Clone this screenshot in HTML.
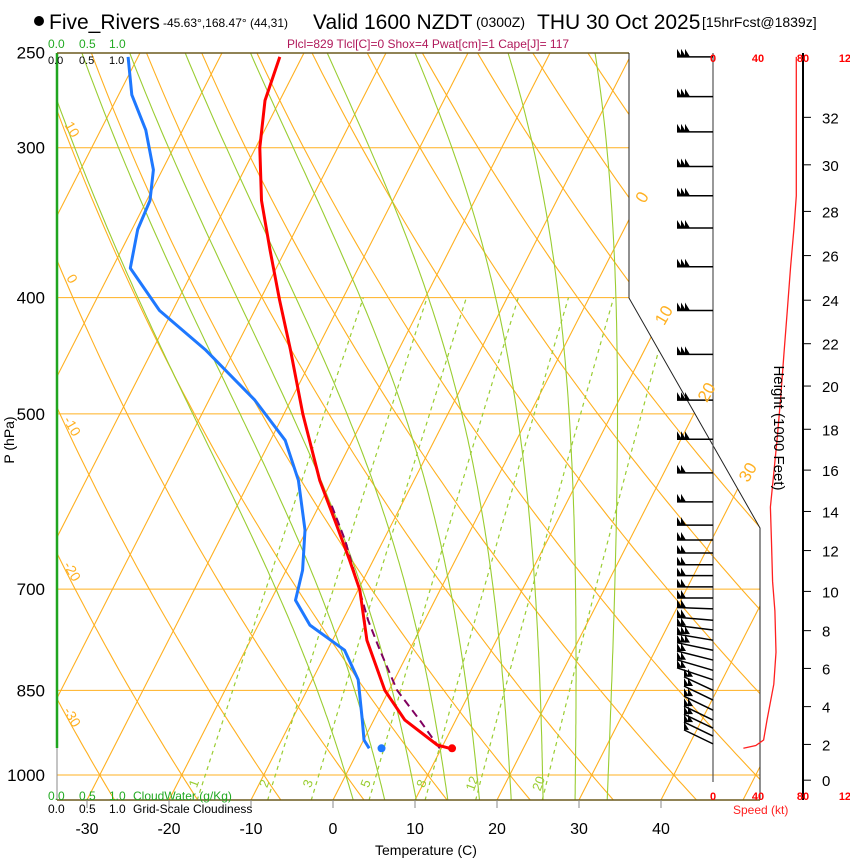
<!DOCTYPE html>
<html><head><meta charset="utf-8">
<style>
html,body{margin:0;padding:0;background:#fff;}
svg{display:block;font-family:"Liberation Sans",Arial,sans-serif;}
</style></head>
<body>
<svg id="chart" width="850" height="860" viewBox="0 0 850 860" xmlns="http://www.w3.org/2000/svg">
<defs>
<clipPath id="plotClip"><polygon points="57,53 629,53 629,298 760,528 760,800 57,800"/></clipPath>
</defs>
<rect width="850" height="860" fill="#fff"/>
<g id="grid" clip-path="url(#plotClip)"></g>
<g id="series"></g>
<g id="frame"></g>
<g id="wind"></g>
<g id="labels">
  <circle cx="39" cy="21" r="5" fill="#000"/>
  <text x="49" y="29" font-size="21">Five_Rivers</text>
  <text x="163" y="27" font-size="12">-45.63°,168.47° (44,31)</text>
  <text x="313" y="29" font-size="21">Valid 1600 NZDT</text>
  <text x="476" y="27" font-size="14">(0300Z)</text>
  <text x="537" y="29" font-size="21">THU 30 Oct 2025</text>
  <text x="702" y="27" font-size="14">[15hrFcst@1839z]</text>
  <text x="287" y="48" font-size="12" fill="#b0185a">Plcl=829 Tlcl[C]=0 Shox=4 Pwat[cm]=1 Cape[J]= 117</text>
  <g font-size="12" fill="#22aa22">
    <text x="48" y="48">0.0</text><text x="79" y="48">0.5</text><text x="109" y="48">1.0</text>
  </g>
  <g font-size="11" fill="#000">
    <text x="48" y="64">0.0</text><text x="79" y="64">0.5</text><text x="109" y="64">1.0</text>
  </g>
  <g font-size="12" fill="#22aa22">
    <text x="48" y="800">0.0</text><text x="79" y="800">0.5</text><text x="109" y="800">1.0</text><text x="133" y="800">CloudWater (g/Kg)</text>
  </g>
  <g font-size="12" fill="#000">
    <text x="48" y="813">0.0</text><text x="79" y="813">0.5</text><text x="109" y="813">1.0</text><text x="133" y="813">Grid-Scale Cloudiness</text>
  </g>
  <text x="375" y="855" font-size="14">Temperature (C)</text>
  <text transform="translate(14,440) rotate(-90)" font-size="14" text-anchor="middle">P (hPa)</text>
  <text transform="translate(774,428) rotate(90)" font-size="15" text-anchor="middle">Height (1000 Feet)</text>
  <text x="733" y="814" font-size="12" fill="#ff2020">Speed (kt)</text>
</g>
<script>
// ---- data ----
const pressureTicks = [250, 300, 400, 500, 700, 850, 1000];
const tempTicks = [-30, -20, -10, 0, 10, 20, 30, 40];
const isobarLines = [300, 400, 500, 700, 850, 1000];
const mixingRatios = [1, 2, 3, 5, 8, 12, 20];
const moistThetaW = [0, 4, 8, 12, 16, 20, 24, 28, 32];
const dryThetaLabels = [10, 0, -10, -20, -30];
const tempP = [252, 274, 300, 332, 365, 402, 442, 500, 568, 613, 662, 701, 772, 850, 900, 944, 950];
const tempT = [-52.7, -51.8, -49.5, -46, -41.9, -37.6, -33.2, -27.7, -21.5, -17.2, -12.9, -9.8, -5.8, -0.5, 3.8, 9.3, 11.0];
const dewP = [252, 271, 290, 313, 332, 351, 378, 410, 442, 487, 526, 568, 625, 675, 715, 750, 787, 833, 900, 935, 950];
const dewT = [-71.2, -68.4, -64.5, -61.1, -59.6, -59.3, -57.8, -51.6, -43.6, -34.4, -28.2, -24.1, -20.2, -18.0, -17.0, -13.7, -7.9, -4.4, -1.4, 0.05, 1.2];
const parcelP = [950, 900, 850, 787, 743, 688, 637, 596];
const parcelT = [9.8, 5.6, 1.0, -3.6, -6.9, -10.8, -14.7, -18.5];
const sfcTemp = 11.3, sfcDew = 2.7, sfcP = 950;
const barbP = [252, 272, 291, 311, 329, 350, 377, 410, 446, 487, 525, 560, 592, 619, 637, 653, 668, 682, 697, 712, 727, 743, 757, 772, 787, 802, 818, 833, 850, 866, 883, 900, 914, 928, 942];
const barbSpd = [74, 74, 74, 74, 74, 70, 67, 63, 60, 57, 55, 53, 52, 52, 52, 52, 53, 53, 53, 54, 54, 54, 54, 55, 55, 54, 54, 50, 48, 47, 46, 45, 44, 42, 30];
const profP = [252, 329, 350, 377, 410, 446, 487, 525, 560, 598, 640, 690, 730, 790, 840, 900, 935, 945, 950];
const profSpd = [74, 74, 72, 69, 66, 63, 60, 57, 54, 51, 52, 53, 55, 56, 54, 48, 45, 38, 27];
const heightTicks = [0, 2, 4, 6, 8, 10, 12, 14, 16, 18, 20, 22, 24, 26, 28, 30, 32];
const heightTickP = [1010, 943, 877, 815, 758, 703, 650, 603, 557, 515, 474, 437, 402, 369, 339, 310, 283];
const speedTicks = [0, 40, 80, 120];

// ---- axis functions ----
const NS = "http://www.w3.org/2000/svg";
function yP(p){ return 775 - 521*Math.log(1000/p); }
function xT(T, y){ return 333 + 8.2*T + 0.51*(800 - y); }
function xSpd(s){ return 713 + 1.125*s; }
function mk(tag, attrs, parent){
  const e = document.createElementNS(NS, tag);
  for (const k in attrs) e.setAttribute(k, attrs[k]);
  parent.appendChild(e); return e;
}
const grid = document.getElementById('grid');
const series = document.getElementById('series');
const frame = document.getElementById('frame');
const wind = document.getElementById('wind');
const labels = document.getElementById('labels');
const ORANGE = "#ffb020", GREEN = "#9acd32";

// isotherms
for (let T = -130; T <= 60; T += 10){
  const l = mk('line', {x1: xT(T,800), y1: 800, x2: xT(T,53), y2: 53, stroke: ORANGE, 'stroke-width': 1.1}, grid);
  
  
}
// dry adiabats
for (let th = 183.15; th <= 473.15; th += 10){
  let d = '';
  for (let p = 1050; p >= 245; p -= 10){
    const T = th*Math.pow(p/1000, 0.286) - 273.15, y = yP(p);
    d += (d ? 'L' : 'M') + xT(T,y).toFixed(1) + ',' + y.toFixed(1);
  }
  const e = mk('path', {d: d, fill: 'none', stroke: ORANGE, 'stroke-width': 1.1}, grid);
  
  
}
// isobars
isobarLines.forEach(p => {
  const e = mk('line', {x1: 57, y1: yP(p), x2: 760, y2: yP(p), stroke: ORANGE, 'stroke-width': 1}, grid);
  
  
});
// moist adiabats
function es(T){ return 6.112*Math.exp(17.67*T/(T+243.5)); }
function rs(T,p){ const e = es(T); return 0.622*e/(p-e); }
function moistGrad(T,p){
  const Tk = T + 273.15, r = rs(T,p), Lv = 2.5e6, Rd = 287, cp = 1004;
  return (1/p)*(Rd*Tk + Lv*r)/(cp + Lv*Lv*r*0.622/(Rd*Tk*Tk));
}
moistThetaW.forEach(tw => {
  const pts = [];
  let T = tw;
  for (let p = 1000; p <= 1050; p += 5){ pts.unshift([p,T]); T += moistGrad(T,p)*5; }
  T = tw;
  for (let p = 1000; p >= 245; p -= 5){ pts.push([p,T]); T -= moistGrad(T,p)*5; }
  let d = '';
  pts.forEach(([p,t]) => { const y = yP(p); d += (d ? 'L' : 'M') + xT(t,y).toFixed(1) + ',' + y.toFixed(1); });
  const e = mk('path', {d: d, fill: 'none', stroke: GREEN, 'stroke-width': 1.1}, grid);
  
  
});
// mixing ratio lines
function tMix(w,p){ const e = w*p/(622+w), L = Math.log(e/6.112); return 243.5*L/(17.67-L); }
mixingRatios.forEach(w => {
  let d = '';
  for (let p = 1050; p >= 400; p -= 10){
    const y = yP(p); d += (d ? 'L' : 'M') + xT(tMix(w,p),y).toFixed(1) + ',' + y.toFixed(1);
  }
  const e = mk('path', {d: d, fill: 'none', stroke: GREEN, 'stroke-width': 1.2, 'stroke-dasharray': '4,4'}, grid);
  
  
  const yl = 785, xl = xT(tMix(w, 1040), yl) - 6;
  const t = mk('text', {x: xl, y: yl, 'font-size': 13, fill: GREEN, transform: 'rotate(-70 ' + xl + ' ' + yl + ')', 'text-anchor': 'middle'}, labels);
  t.textContent = w;
  
  
});

// frame
function fl(attrs, name){
  const e = mk('line', attrs, frame);
  
  
}
fl({x1:57,y1:53,x2:57,y2:800,stroke:'#888','stroke-width':1}, 'left-axis');
fl({x1:57,y1:53,x2:57,y2:748,stroke:'#1fa51f','stroke-width':2.5}, 'cloudwater-bar');
fl({x1:57,y1:53,x2:629,y2:53,stroke:'#6b5a1e','stroke-width':1.5}, 'top-border');
fl({x1:57,y1:800,x2:760,y2:800,stroke:'#6b5a1e','stroke-width':1.5}, 'bottom-border');
const bnd = mk('polyline', {points:'629,53 629,298 760,528 760,800', fill:'none', stroke:'#222', 'stroke-width':1}, frame);


fl({x1:713,y1:53,x2:713,y2:782,stroke:'#555','stroke-width':1.2}, 'barb-staff-axis');
fl({x1:803,y1:53,x2:803,y2:800,stroke:'#000','stroke-width':2}, 'height-axis');

pressureTicks.forEach(p => {
  const t = mk('text', {x: 45, y: yP(p)+6, 'font-size': 17, 'text-anchor': 'end'}, labels);
  t.textContent = p;
  
  
});
tempTicks.forEach(T => {
  const x = xT(T, 800);
  fl({x1:x,y1:800,x2:x,y2:808,stroke:'#888','stroke-width':1}, 'temp-tick');
  const t = mk('text', {x: x, y: 834, 'font-size': 16, 'text-anchor': 'middle'}, labels);
  t.textContent = T;
  
  
});
// dry adiabat labels on left edge
dryThetaLabels.forEach(th => {
  const thK = th + 273.15;
  let best = 0;
  for (let p = 250; p <= 1050; p += 1){ const T = thK*Math.pow(p/1000,0.286)-273.15; if (xT(T,yP(p)) >= 57){ best = p; break; } }
  const y = yP(best) + 20, x = 68;
  const t = mk('text', {x: x, y: y, 'font-size': 14, fill: ORANGE, transform: 'rotate(60 ' + x + ' ' + y + ')', 'text-anchor': 'middle'}, labels);
  t.textContent = th;
  
  
});
// isotherm labels on right
[[0,200],[10,318],[20,395],[30,475]].forEach(([T,y]) => {
  const x = xT(T, y) + 8;
  const t = mk('text', {x: x, y: y, 'font-size': 17, fill: ORANGE, transform: 'rotate(-60 ' + x + ' ' + y + ')', 'text-anchor': 'middle'}, labels);
  t.textContent = T;
  
  
});

// series
function pathFrom(P, T){
  let d = '';
  for (let i = 0; i < P.length; i++){ const y = yP(P[i]); d += (i ? 'L' : 'M') + xT(T[i],y).toFixed(1) + ',' + y.toFixed(1); }
  return d;
}
const dew = mk('path', {d: pathFrom(dewP, dewT), fill:'none', stroke:'#1e78ff', 'stroke-width':3, 'stroke-linejoin':'round'}, series);


const par = mk('path', {d: pathFrom(parcelP, parcelT), fill:'none', stroke:'#800060', 'stroke-width':2, 'stroke-dasharray':'8,5'}, series);


const tmp = mk('path', {d: pathFrom(tempP, tempT), fill:'none', stroke:'#ff0000', 'stroke-width':3, 'stroke-linejoin':'round'}, series);


const ys = yP(sfcP);
const sd = mk('circle', {cx: xT(sfcTemp, ys), cy: ys, r: 4, fill:'#ff0000'}, series);


const dd = mk('circle', {cx: xT(sfcDew, ys), cy: ys, r: 4, fill:'#1e78ff'}, series);



// wind barbs
barbP.forEach((p,i) => {
  const y = yP(p);
  let tilt = 0;
  if (y > 600) tilt = -Math.min(14, (y-600)*0.15);
  let lx = 677, ly = y + tilt;
  if (y > 690){ lx = 684; ly = Math.min(ly, 700 + (y-690)*0.6); }
  const g = mk('g', {}, wind);
  
  
  mk('line', {x1: 713, y1: y, x2: lx, y2: ly, stroke:'#000', 'stroke-width': 1.5}, g);
  const n = Math.max(1, Math.round(barbSpd[i]/22));
  for (let k = 0; k < n; k++){
    const bx = lx + k*4;
    mk('polygon', {points: bx+','+ly+' '+(bx+5)+','+ly+' '+bx+','+(ly-8), fill:'#000'}, g);
  }
});
let sp = '';
profP.forEach((p,i) => { sp += (i ? 'L' : 'M') + xSpd(profSpd[i]).toFixed(1) + ',' + yP(p).toFixed(1); });
const prof = mk('path', {d: sp, fill:'none', stroke:'#ff2020', 'stroke-width':1.3}, wind);


speedTicks.forEach(s => {
  [62, 800].forEach(yy => {
    const t = mk('text', {x: xSpd(s), y: yy, 'font-size': 11, 'font-weight': 'bold', fill:'#ff0000', 'text-anchor':'middle'}, wind);
    t.textContent = s;
    
    
  });
});
heightTicks.forEach((h,i) => {
  const y = yP(heightTickP[i]);
  mk('line', {x1: 803, y1: y, x2: 811, y2: y, stroke:'#000', 'stroke-width':1}, wind);
  const t = mk('text', {x: 822, y: y+6, 'font-size': 15}, wind);
  t.textContent = h;
  
  
});
</script>
</svg>
</body></html>
